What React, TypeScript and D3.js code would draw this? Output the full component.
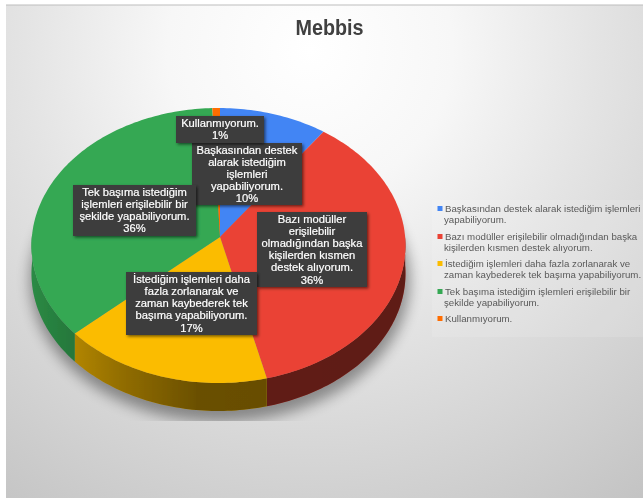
import React from "react";
import * as d3 from "d3";

const W = 643, H = 498;
const title = "Mebbis";
const values = [10, 36, 17, 36.3, 0.7];
const colors = ["#4285f4", "#ea4335", "#fbbc04", "#34a853", "#ff6d01"];
const legendLines = [
  ["Başkasından destek alarak istediğim işlemleri", "yapabiliyorum."],
  ["Bazı modüller erişilebilir olmadığından başka", "kişilerden kısmen destek alıyorum."],
  ["İstediğim işlemleri daha fazla zorlanarak ve", "zaman kaybederek tek başıma yapabiliyorum."],
  ["Tek başıma istediğim işlemleri erişilebilir bir", "şekilde yapabiliyorum."],
  ["Kullanmıyorum."],
];
const labelLines = [
  ["Başkasından destek", "alarak istediğim", "işlemleri", "yapabiliyorum.", "10%"],
  ["Bazı modüller", "erişilebilir", "olmadığından başka", "kişilerden kısmen", "destek alıyorum.", "36%"],
  ["İstediğim işlemleri daha", "fazla zorlanarak ve", "zaman kaybederek tek", "başıma yapabiliyorum.", "17%"],
  ["Tek başıma istediğim", "işlemleri erişilebilir bir", "şekilde yapabiliyorum.", "36%"],
  ["Kullanmıyorum.", "1%"],
];
const labelBoxes = [
  [192, 143, 110, 62],
  [257, 212, 110, 75],
  [126, 272, 131, 63],
  [73, 185, 123, 51],
  [176, 116, 88, 27],
];
const legendY = [208, 236, 263, 291, 318];

const cx = 218.5, cy = 245.5, rx = 187, ry = 137.5, depth = 28;
const apex: [number, number] = [220, 237];
const persp = 0.035;
const rot = 0.008;
// perspective: the near edge of the disc is stretched, the far edge squeezed
const warp = (a: number) => {
  const re = Math.cos(a), im = Math.sin(a);
  const n = [re + persp, im];
  const d = [1 + persp * re, persp * im];
  const t = Math.atan2(n[1] * d[0] - n[0] * d[1], n[0] * d[0] + n[1] * d[1]);
  return (t < -0.001 ? t + 2 * Math.PI : t) + rot;
};
const pt = (a: number): [number, number] => [cx + rx * Math.sin(warp(a)), cy - ry * Math.cos(warp(a))];

const pie = d3.pie<number>().sort(null).value((d) => d);
const arcs = pie(values);

const samples = (a0: number, a1: number) => {
  const n = Math.max(2, Math.ceil((a1 - a0) / 0.02));
  return d3.range(n + 1).map((i) => pt(a0 + ((a1 - a0) * i) / n));
};
const line = d3.line();
const topPath = (a0: number, a1: number) => line([apex, ...samples(a0, a1)]) + "Z";
const sidePath = (a0: number, a1: number) => {
  const s0 = Math.max(a0, Math.PI / 2), s1 = Math.min(a1, (3 * Math.PI) / 2);
  if (s1 <= s0) return null;
  const up = samples(s0, s1);
  const down = up.map(([x, y]) => [x, y + depth] as [number, number]).reverse();
  return line([...up, ...down]) + "Z";
};

export default function App() {
  return (
    <svg width={W} height={H} style={{ position: "fixed", left: 0, top: 0, fontFamily: "'Liberation Sans', Arial, sans-serif" }}>
      <defs>
        <radialGradient id="bg" gradientUnits="userSpaceOnUse" cx={310} cy={50} r={570}>
          <stop offset="0" stopColor="#ffffff" />
          <stop offset="0.25" stopColor="#f7f7f7" />
          <stop offset="0.5" stopColor="#e4e4e4" />
          <stop offset="0.75" stopColor="#d3d3d3" />
          <stop offset="1" stopColor="#c2c2c2" />
        </radialGradient>
        <linearGradient id="sideShade" gradientUnits="userSpaceOnUse" x1={32} x2={405} y1={0} y2={0}>
          <stop offset="0" stopColor="#000" stopOpacity={0.18} />
          <stop offset="0.24" stopColor="#000" stopOpacity={0.42} />
          <stop offset="0.45" stopColor="#000" stopOpacity={0.58} />
          <stop offset="1" stopColor="#000" stopOpacity={0.6} />
        </linearGradient>
        <clipPath id="groundClip"><rect x={0} y={0} width={W} height={421} /></clipPath>
        <filter id="soft" x="-5%" y="-5%" width="110%" height="110%"><feGaussianBlur stdDeviation="0.4" /></filter>
        <filter id="ground" x="-20%" y="-20%" width="140%" height="140%"><feGaussianBlur stdDeviation="7" /></filter>
        <filter id="boxShadow" x="-10%" y="-10%" width="125%" height="125%">
          <feDropShadow dx="1.5" dy="1.5" stdDeviation="1.5" floodColor="#000" floodOpacity="0.55" />
        </filter>
      </defs>
      <rect width={W} height={H} fill="#fff" />
      <rect x={6} y={5} width={W - 6} height={H - 5} fill="url(#bg)" />
      <rect x={6} y={4.5} width={W - 6} height={1} fill="#bdbdbd" />
      <g clipPath="url(#groundClip)">
        <ellipse cx={220} cy={280} rx={190} ry={142} fill="#000" opacity={0.38} filter="url(#ground)" />
      </g>
      <rect x={432} y={200} width={211} height={137} fill="#ffffff" opacity={0.12} />
      <g filter="url(#soft)">
        <text x={329.5} y={35} textAnchor="middle" fontSize={22} fontWeight="bold" fill="#404040" textLength={68} lengthAdjust="spacingAndGlyphs">{title}</text>
        {arcs.map((a, i) => {
          const d = sidePath(a.startAngle, a.endAngle);
          return d ? (
            <g key={i}>
              <path d={d} fill={colors[i]} />
              <path d={d} fill="url(#sideShade)" />
            </g>
          ) : null;
        })}
        {arcs.map((a, i) => (
          <path key={i} d={topPath(a.startAngle, a.endAngle)} fill={colors[i]} />
        ))}
        {labelBoxes.map(([x, y, w, h], i) => {
          const lines = labelLines[i];
          const lh = 12.1;
          const y0 = y + h / 2 - ((lines.length - 1) * lh) / 2 + 3.8;
          return (
            <g key={i}>
              <rect x={x} y={y} width={w} height={h} fill="#3c3c3c" filter="url(#boxShadow)" />
              <text textAnchor="middle" fontSize={11.2} fill="#fff" stroke="#fff" strokeWidth={0.2}>
                {lines.map((t, j) => (
                  <tspan key={j} x={x + w / 2} y={y0 + j * lh}>{t}</tspan>
                ))}
              </text>
            </g>
          );
        })}
        {legendLines.map((ls, i) => (
          <g key={i}>
            <rect x={437.5} y={legendY[i] - 2} width={5} height={5} fill={colors[i]} />
            {ls.map((t, j) => (
              <text key={j} x={j === 0 ? 445 : 444} y={legendY[i] + 3.5 + j * 11.2} fontSize={9.7} fill="#595959">{t}</text>
            ))}
          </g>
        ))}
      </g>
    </svg>
  );
}
